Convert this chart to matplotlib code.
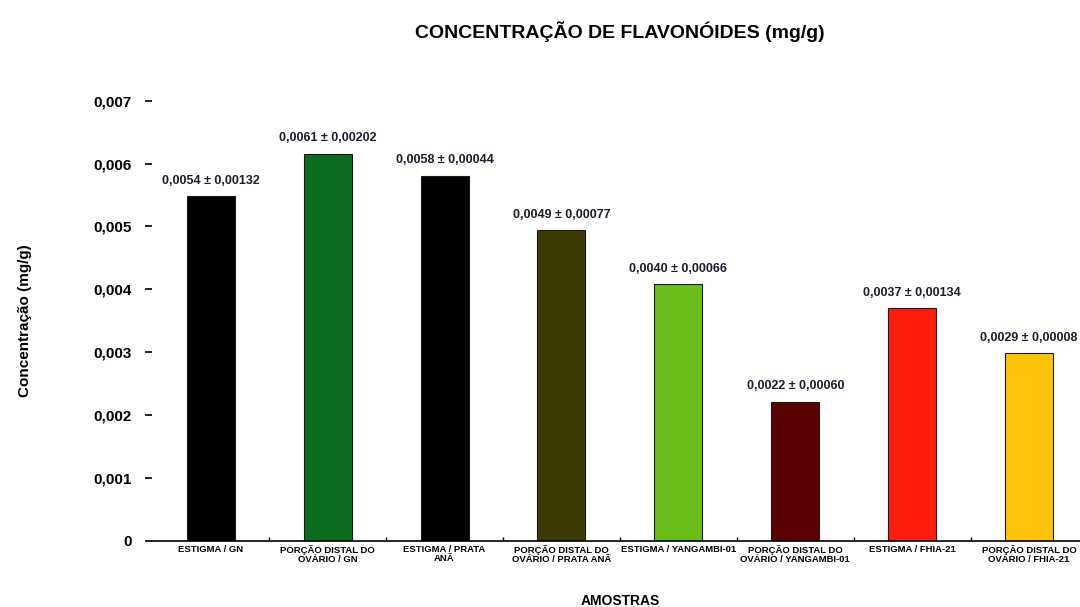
import matplotlib
matplotlib.use("Agg")
import matplotlib.pyplot as plt
from matplotlib.ticker import FuncFormatter, FixedLocator

plt.rcParams['font.family'] = ['Liberation Sans', 'DejaVu Sans']

amostras = ["ESTIGMA / GN",
            "PORÇÃO DISTAL DO\nOVÁRIO / GN",
            "ESTIGMA / PRATA\nANÃ",
            "PORÇÃO DISTAL DO\nOVÁRIO / PRATA ANÃ",
            "ESTIGMA / YANGAMBI-01",
            "PORÇÃO DISTAL DO\nOVÁRIO / YANGAMBI-01",
            "ESTIGMA / FHIA-21",
            "PORÇÃO DISTAL DO\nOVÁRIO / FHIA-21"]
valores = [0.00548, 0.00616, 0.00581, 0.00494, 0.00408, 0.00221, 0.00370, 0.00298]
rotulos = ["0,0054 ± 0,00132", "0,0061 ± 0,00202", "0,0058 ± 0,00044",
           "0,0049 ± 0,00077", "0,0040 ± 0,00066", "0,0022 ± 0,00060",
           "0,0037 ± 0,00134", "0,0029 ± 0,00008"]
cores = ["#000000", "#0b6b1f", "#000000", "#3b3b02",
         "#6cbd18", "#5a0202", "#ff1d0d", "#ffc20a"]

fig = plt.figure(figsize=(10.8, 6.07), dpi=100)
ax = fig.add_axes([0.141, 0.109, 0.866, 0.725])

x = range(len(valores))
ax.bar(x, valores, width=0.41, color=cores, edgecolor="#1a1a1a", linewidth=0.8)

for i, v in enumerate(valores):
    ax.text(i, v + 0.00015, rotulos[i], ha="center", va="bottom",
            fontsize=9, fontweight="bold", color="#1c1c30")

ax.set_xlim(-0.5, len(valores) - 0.5)
ax.set_ylim(0, 0.007)
ax.set_yticks([0, 0.001, 0.002, 0.003, 0.004, 0.005, 0.006, 0.007])
ax.yaxis.set_major_formatter(FuncFormatter(
    lambda v, p: "0" if v == 0 else ("%.3f" % v).replace(".", ",")))
ax.tick_params(axis="y", length=5, width=1.2, pad=10, labelsize=11)
for t in ax.get_yticklabels():
    t.set_fontweight("bold")

ax.set_xticks(list(x))
ax.set_xticklabels(amostras, fontsize=6.8, fontweight="bold", linespacing=0.95)
ax.tick_params(axis="x", which="major", length=0, pad=3)
ax.xaxis.set_minor_locator(FixedLocator([i + 0.5 for i in range(len(valores) - 1)]))
ax.tick_params(axis="x", which="minor", direction="in", length=3, width=1)

for s in ["top", "right", "left"]:
    ax.spines[s].set_visible(False)
ax.spines["bottom"].set_linewidth(1.2)

ax.set_ylabel("Concentração (mg/g)", fontsize=11, fontweight="bold", labelpad=44)
ax.set_xlabel("AMOSTRAS", fontsize=10, fontweight="bold", labelpad=22)
ax.set_title("CONCENTRAÇÃO DE FLAVONÓIDES (mg/g)", fontsize=14, fontweight="bold", pad=45)

fig.savefig("out.png", dpi=100)
